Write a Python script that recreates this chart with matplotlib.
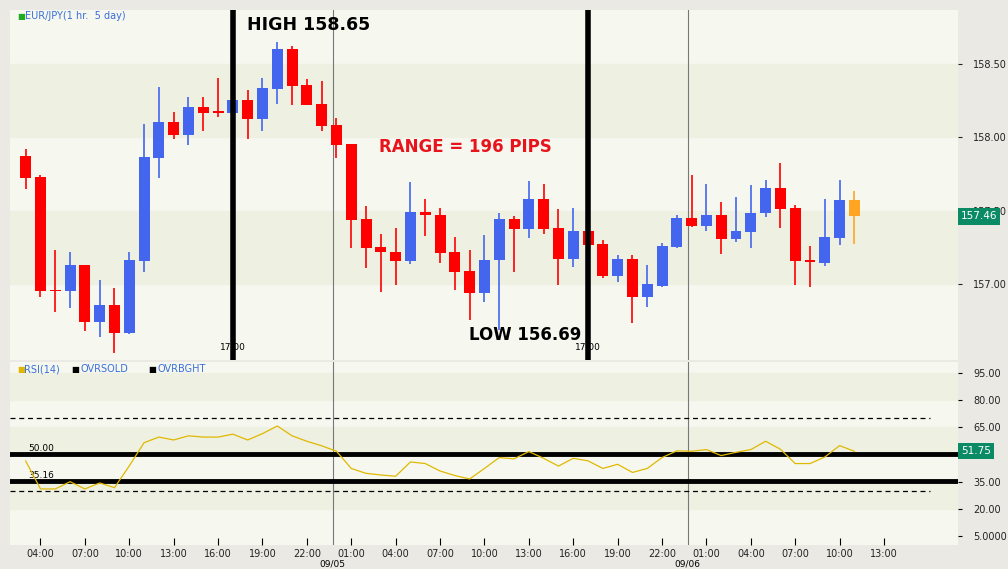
import matplotlib
matplotlib.use("Agg")
import matplotlib.pyplot as plt
import numpy as np

opens  = [157.871,157.728,156.957,156.954,157.127,156.744,156.857,156.665,157.159,157.859,
          158.102,158.016,158.204,158.170,158.165,158.252,158.125,158.329,158.599,158.354,
          158.225,158.082,157.952,157.442,157.252,157.216,157.159,157.490,157.467,157.216,
          157.088,156.937,157.163,157.442,157.376,157.578,157.381,157.172,157.363,157.272,
          157.055,157.172,156.914,156.988,157.252,157.449,157.395,157.470,157.308,157.356,
          157.481,157.653,157.517,157.163,157.145,157.315,157.571]
closes = [157.723,156.954,156.950,157.127,156.744,156.857,156.665,157.163,157.864,158.102,
          158.016,158.204,158.165,158.165,158.252,158.125,158.333,158.599,158.349,158.218,
          158.077,157.946,157.435,157.245,157.216,157.159,157.490,157.467,157.213,157.084,
          156.937,157.163,157.442,157.376,157.578,157.376,157.172,157.363,157.268,157.055,
          157.172,156.914,157.000,157.259,157.449,157.395,157.470,157.308,157.363,157.483,
          157.653,157.512,157.159,157.148,157.318,157.571,157.460]
highs  = [157.918,157.742,157.231,157.216,157.127,157.027,156.971,157.220,158.088,158.342,
          158.172,158.272,158.272,158.401,158.260,158.320,158.401,158.648,158.621,158.393,
          158.379,158.127,157.952,157.531,157.338,157.379,157.696,157.578,157.515,157.318,
          157.231,157.333,157.483,157.460,157.701,157.683,157.510,157.519,157.380,157.300,
          157.197,157.197,157.129,157.281,157.470,157.742,157.683,157.556,157.594,157.674,
          157.708,157.825,157.537,157.259,157.578,157.708,157.633]
lows   = [157.648,156.914,156.812,156.835,156.680,156.637,156.529,156.660,157.084,157.723,
          157.989,157.946,158.041,158.138,158.160,157.989,158.043,158.227,158.218,158.218,
          158.043,157.855,157.245,157.107,156.948,156.993,157.136,157.327,157.141,156.959,
          156.755,156.876,156.690,157.084,157.315,157.342,156.993,157.118,157.250,157.044,
          157.016,156.737,156.846,156.977,157.243,157.390,157.363,157.202,157.284,157.247,
          157.458,157.383,156.993,156.982,157.125,157.265,157.270]
rsi = [46.4,31.0,31.0,35.0,31.0,34.3,31.7,43.7,56.5,59.6,58.0,60.3,59.6,59.6,61.2,58.0,61.5,65.7,60.3,57.3,
       54.8,51.8,42.3,39.6,38.7,38.0,45.9,45.0,40.9,38.4,36.5,42.3,48.3,47.6,51.6,47.9,43.6,47.9,46.5,42.3,
       44.6,40.1,42.3,48.3,52.0,51.8,52.7,49.4,51.2,52.7,57.3,52.9,45.0,45.0,48.6,54.9,51.75]
hour_labels = ["04:00","07:00","10:00","13:00","16:00","19:00","22:00","01:00","04:00","07:00",
               "10:00","13:00","16:00","19:00","22:00","01:00","04:00","07:00","10:00","13:00"]
date_labels = ["09/05","09/06"]
price_ticks = [158.50,158.00,157.50,157.00]
rsi_ticks = [95,80,65,50,35,20,5]
rsi_tick_labels = ["95.00","80.00","65.00","","35.00","20.00","5.0000"]

W,H = 1008,569
fig = plt.figure(figsize=(W/100,H/100), dpi=100, facecolor="#ebe9e4")
def ax_at(l,t,r,b):
    return fig.add_axes([l/W,1-b/H,(r-l)/W,(b-t)/H])

n = len(opens)
x = np.arange(n)
xl = (-1.06, 63.0)

# price panel
ax = ax_at(10,10,958,360)
ax.set_xlim(*xl); ax.set_ylim(156.483,158.864)
ax.set_facecolor("#f6f8f0")
for lo,hi in [(158.0,158.5),(157.0,157.5)]:
    ax.axhspan(lo,hi,color="#eef0e2",zorder=0)
for s in ax.spines.values(): s.set_visible(False)
ax.set_xticks([])
ax.yaxis.tick_right()
ax.set_yticks(price_ticks)
ax.set_yticklabels([f"{v:.2f}" for v in price_ticks], fontsize=7, color="#222")
ax.tick_params(axis="y", length=3, pad=8, colors="#222")
cols = []
for i in range(n):
    if i == n-1: cols.append("#ffa522")
    elif closes[i] > opens[i]: cols.append("#4466ee")
    else: cols.append("#ff0000")
ax.vlines(x, lows, highs, colors=cols, lw=1.2, zorder=2)
bot = np.minimum(opens,closes); hgt = np.maximum(np.abs(np.array(opens)-np.array(closes)),0.012)
ax.bar(x, hgt, bottom=bot, width=0.74, color=cols, zorder=3)
for xv in [21,45]:
    ax.axvline(xv-0.25, color="#777", lw=0.8, zorder=1)
for xv in [14,38]:
    ax.axvline(xv, color="black", lw=4, zorder=4)
    ax.text(xv, 156.57, "17:00", fontsize=6.5, ha="center", va="center", zorder=5)
ax.text(14.95, 158.76, "HIGH 158.65", fontsize=12.5, fontweight="bold", va="center")
ax.text(23.9, 157.93, "RANGE = 196 PIPS", fontsize=12, fontweight="bold", color="#e8141c", va="center")
ax.text(29.95, 156.65, "LOW 156.69", fontsize=12, fontweight="bold", va="center")
ax.text(-0.6, 158.82, "■", color="#22aa22", fontsize=6, va="center")
ax.text(-0.05, 158.82, "EUR/JPY(1 hr.  5 day)", color="#3a6fd8", fontsize=7, va="center")
ax.text(1.003, (157.46-156.483)/(158.864-156.483), "157.46", transform=ax.transAxes,
        fontsize=7.5, color="white", va="center", ha="left",
        bbox=dict(boxstyle="square,pad=0.3", fc="#0b8a66", ec="none"))

# RSI panel
ar = ax_at(10,362,958,545)
ar.set_xlim(*xl); ar.set_ylim(0.09,101)
ar.set_facecolor("#f6f8f0")
for lo,hi in [(80,95),(50,65),(20,35)]:
    ar.axhspan(lo,hi,color="#eef0e2",zorder=0)
for s in ar.spines.values(): s.set_visible(False)
ar.yaxis.tick_right()
ar.set_yticks(rsi_ticks); ar.set_yticklabels(rsi_tick_labels, fontsize=7, color="#222")
ar.tick_params(axis="y", length=3, pad=8)
for xv in [21,45]:
    ar.axvline(xv-0.25, color="#777", lw=0.8, zorder=1)
ar.axhline(70, color="black", lw=0.9, ls=(0,(4,3)), xmax=0.97)
ar.axhline(30, color="black", lw=0.9, ls=(0,(4,3)), xmax=0.97)
ar.axhline(50, color="black", lw=3.5)
ar.axhline(35.16, color="black", lw=3.5)
ar.text(0.2, 52, "50.00", fontsize=6.5)
ar.text(0.2, 36.9, "35.16", fontsize=6.5)
ar.plot(x, rsi, color="#e0b800", lw=0.9, zorder=3)
ar.text(-0.6, 97, "■", color="#e0b800", fontsize=6, va="center")
ar.text(-0.1, 97, "RSI(14)", color="#3a6fd8", fontsize=7, va="center")
ar.text(3.1, 97, "■", color="black", fontsize=6, va="center")
ar.text(3.7, 97, "OVRSOLD", color="#3a6fd8", fontsize=7, va="center")
ar.text(8.3, 97, "■", color="black", fontsize=6, va="center")
ar.text(8.9, 97, "OVRBGHT", color="#3a6fd8", fontsize=7, va="center")
ar.text(1.003, 51.75/100.91, "51.75", transform=ar.transAxes,
        fontsize=7.5, color="white", va="center", ha="left",
        bbox=dict(boxstyle="square,pad=0.3", fc="#0b8a66", ec="none"))
tick_idx = np.arange(1, 59, 3)
ar.set_xticks(tick_idx)
ar.set_xticklabels(hour_labels, fontsize=7, color="#222")
ar.tick_params(axis="x", direction="in", length=5, pad=3)
for xv,lab in zip([21,45],date_labels):
    fig.text((25.7+14.8*xv-4)/W, 1-564/H, lab, fontsize=6.5, ha="center", va="center")

fig.savefig("out.png", dpi=100, facecolor=fig.get_facecolor())
